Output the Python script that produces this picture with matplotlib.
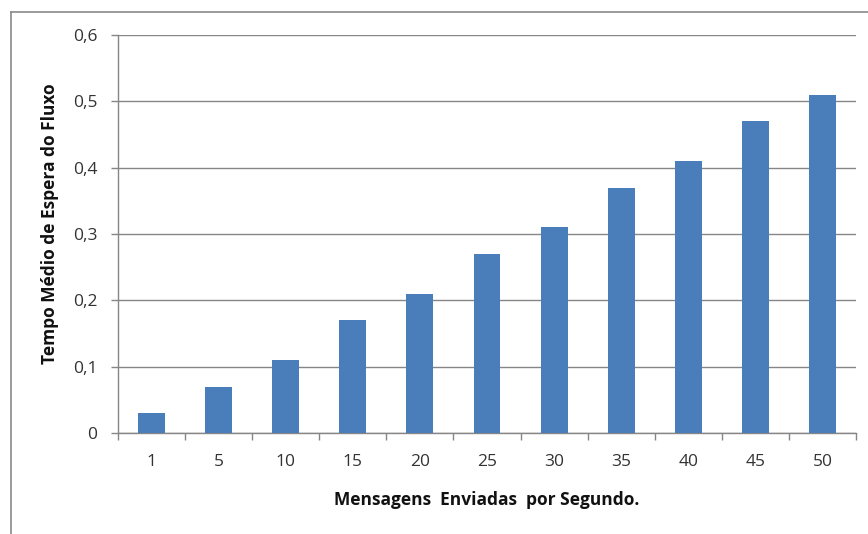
import matplotlib
matplotlib.use("Agg")
import matplotlib.pyplot as plt
from matplotlib.lines import Line2D
import numpy as np

categories = ["1", "5", "10", "15", "20", "25", "30", "35", "40", "45", "50"]
values = [0.03, 0.07, 0.11, 0.17, 0.21, 0.27, 0.31, 0.37, 0.41, 0.47, 0.51]
yticks = [0, 0.1, 0.2, 0.3, 0.4, 0.5, 0.6]
ytick_labels = ["0", "0,1", "0,2", "0,3", "0,4", "0,5", "0,6"]

plt.rcParams["font.family"] = ["Open Sans", "DejaVu Sans"]

W, H = 868, 534
fig = plt.figure(figsize=(W / 100, H / 100), dpi=100)
fig.patch.set_facecolor("white")

grey = "#868686"
ax = fig.add_axes([118 / W, 1 - 433 / H, (856 - 118) / W, (433 - 35) / H])

x = np.arange(len(categories))
ax.bar(x, values, width=0.4, color="#4A7EBB", zorder=3)

ax.set_xlim(-0.5, len(categories) - 0.5)
ax.set_ylim(0, 0.6)

# y axis
ax.set_yticks(yticks)
ax.set_yticklabels(ytick_labels)
ax.yaxis.grid(True, color=grey, linewidth=1.0, zorder=0)
ax.tick_params(axis="y", direction="out", length=5, width=1, color=grey,
               labelsize=12.5, labelcolor="#333333", pad=10)

# x axis: tick marks on category boundaries, labels at centres
ax.set_xticks(np.arange(-0.5, len(categories), 1.0))
ax.set_xticklabels([])
ax.set_xticks(x, minor=True)
ax.set_xticklabels(categories, minor=True)
ax.tick_params(axis="x", which="major", direction="out", length=5, width=1, color=grey)
ax.tick_params(axis="x", which="minor", length=0, labelsize=12.5,
               labelcolor="#333333", pad=15)

for side in ["top", "right"]:
    ax.spines[side].set_visible(False)
for side in ["left", "bottom"]:
    ax.spines[side].set_color(grey)
    ax.spines[side].set_linewidth(1.0)

ax.set_xlabel("Mensagens  Enviadas  por Segundo.", fontsize=12.5, fontweight="bold",
              labelpad=15, color="#111111")
ax.set_ylabel("Tempo Médio de Espera do Fluxo", fontsize=12.5, fontweight="bold",
              labelpad=10, color="#111111")
ax.yaxis.label.set_y(0.525)

# chart frame
fig.add_artist(Line2D([11 / W, 1.0], [1 - 12 / H, 1 - 12 / H], color="#8a8a8a", linewidth=1.2))
fig.add_artist(Line2D([11 / W, 11 / W], [0.0, 1 - 12 / H], color="#8a8a8a", linewidth=1.2))

fig.savefig("out.png", dpi=100, facecolor="white")
